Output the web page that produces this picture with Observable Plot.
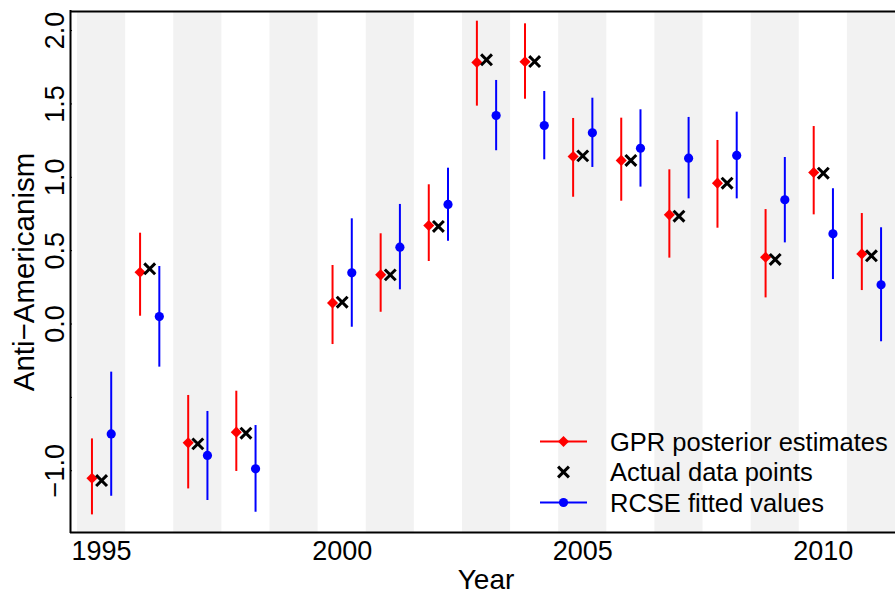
<!DOCTYPE html>
<html>
<head>
<meta charset="utf-8">
<script src="https://cdn.jsdelivr.net/npm/d3@7"></script>
<script src="https://cdn.jsdelivr.net/npm/@observablehq/plot@0.6"></script>
<style>
  body { margin: 0; background: #fff; }
  #wrap { position: relative; width: 895px; height: 595px; font-family: "Liberation Sans", Arial, sans-serif; }
  #legend { position: absolute; left: 0; top: 0; pointer-events: none; }
</style>
</head>
<body>
<div id="wrap"></div>
<script>
// ---- data ----
const years    = [1995, 1996, 1997, 1998, 2000, 2001, 2002, 2003, 2004, 2005, 2006, 2007, 2008, 2009, 2010, 2011];
const gprMean  = [-1.051, 0.353, -0.810, -0.737, 0.144, 0.335, 0.671, 1.783, 1.787, 1.142, 1.115, 0.744, 0.960, 0.455, 1.033, 0.478];
const gprLow   = [-1.301, 0.053, -1.124, -1.005, -0.140, 0.080, 0.426, 1.485, 1.532, 0.864, 0.837, 0.449, 0.653, 0.178, 0.744, 0.228];
const gprHigh  = [-0.783, 0.619, -0.487, -0.458, 0.399, 0.615, 0.949, 2.064, 2.046, 1.401, 1.403, 1.051, 1.251, 0.780, 1.346, 0.753];
const actual   = [-1.067, 0.376, -0.817, -0.744, 0.149, 0.335, 0.665, 1.801, 1.789, 1.146, 1.115, 0.735, 0.960, 0.440, 1.028, 0.465];
const rcseMean = [-0.749, 0.051, -0.896, -0.987, 0.349, 0.524, 0.815, 1.421, 1.353, 1.303, 1.198, 1.130, 1.149, 0.847, 0.615, 0.267];
const rcseLow  = [-1.174, -0.294, -1.203, -1.283, -0.022, 0.233, 0.564, 1.181, 1.119, 1.067, 0.933, 0.853, 0.853, 0.553, 0.303, -0.121];
const rcseHigh = [-0.328, 0.392, -0.596, -0.692, 0.717, 0.815, 1.062, 1.660, 1.585, 1.539, 1.460, 1.408, 1.444, 1.135, 0.922, 0.656];
const shadedYears = [1995, 1997, 1999, 2001, 2003, 2005, 2007, 2009, 2011];
const xTicks = [1995, 2000, 2005, 2010];
const yTicks = [-1, -0.5, 0, 0.5, 1, 1.5, 2];
const legendLabels = ["GPR posterior estimates", "Actual data points", "RCSE fitted values"];

// ---- table for Plot ----
const rows = years.map((year, i) => ({
  year, gm: gprMean[i], gl: gprLow[i], gh: gprHigh[i], a: actual[i],
  rm: rcseMean[i], rl: rcseLow[i], rh: rcseHigh[i]
}));

const xDomain = [1994.354, 2011.5];
const yDomain = [-1.421, 2.130];
const off = 0.2;
const RED = "#ff0000", BLUE = "#0000ff";
const fmtY = d => d === -0.5 ? "" : d.toFixed(1).replace("-", "\u2212");

const chart = Plot.plot({
  width: 895,
  height: 595,
  marginLeft: 70,
  marginRight: 0,
  marginTop: 11,
  marginBottom: 63,
  style: { fontFamily: "'Liberation Sans', Arial, sans-serif", fontSize: "27px", background: "white", color: "black" },
  x: { domain: xDomain },
  y: { domain: yDomain },
  marks: [
    Plot.rect(shadedYears, { x1: d => d - 0.5, x2: d => d + 0.5, fill: "#f2f2f2" }),
    // GPR
    Plot.ruleX(rows, { x: d => d.year - off, y1: "gl", y2: "gh", stroke: RED, strokeWidth: 2 }),
    Plot.dot(rows, { x: d => d.year - off, y: "gm", symbol: "diamond2", r: 5, fill: RED, stroke: null }),
    // actual
    Plot.dot(rows, { x: "year", y: "a", symbol: "times", r: 5, stroke: "black", strokeWidth: 3 }),
    // RCSE
    Plot.ruleX(rows, { x: d => d.year + off, y1: "rl", y2: "rh", stroke: BLUE, strokeWidth: 2 }),
    Plot.dot(rows, { x: d => d.year + off, y: "rm", r: 4.6, fill: BLUE, stroke: null }),
    // frame lines
    Plot.ruleY(yDomain, { stroke: "black", strokeWidth: 2 }),
    Plot.ruleX([xDomain[0]], { stroke: "black", strokeWidth: 2, strokeLinecap: "square" }),
    // axes
    Plot.axisX({ ticks: xTicks, tickSize: 0, tickPadding: 8, tickFormat: d => String(d), label: null, fontSize: 27 }),
    Plot.axisY({ ticks: yTicks, tickSize: -2, tickPadding: 9, tickRotate: -90, tickFormat: fmtY, label: null, fontSize: 27 }),
    // axis titles
    Plot.text(["Year"], { frameAnchor: "bottom", textAnchor: "middle", lineAnchor: "bottom", dy: 56, dx: 3, fontSize: 28, fill: "black" }),
    Plot.text(["Anti\u2212Americanism"], { frameAnchor: "left", textAnchor: "middle", rotate: -90, lineAnchor: "bottom", dx: -37, fontSize: 29.5, fill: "black" })
  ]
});

const wrap = document.getElementById("wrap");
wrap.appendChild(chart);

// ---- legend overlay ----
const leg = d3.select(wrap).append("svg")
  .attr("id", "legend").attr("width", 895).attr("height", 595);
const rowY = [441.5, 472, 502.5];
const g = leg.selectAll("g").data(legendLabels).join("g")
  .attr("transform", (d, i) => `translate(0,${rowY[i]})`);
g.filter((d, i) => i !== 1).append("line")
  .attr("x1", 540).attr("x2", 587).attr("y1", 0).attr("y2", 0)
  .attr("stroke", (d, i) => i === 0 ? RED : BLUE).attr("stroke-width", 2);
g.filter((d, i) => i === 0).append("path")
  .attr("transform", "translate(563.5,0)")
  .attr("d", d3.symbol(d3.symbolDiamond2, Math.PI * 25)()).attr("fill", RED);
g.filter((d, i) => i === 1).append("path")
  .attr("transform", "translate(563.5,0)")
  .attr("d", d3.symbol(d3.symbolTimes, Math.PI * 25)()).attr("fill", "none")
  .attr("stroke", "black").attr("stroke-width", 3);
g.filter((d, i) => i === 2).append("circle")
  .attr("cx", 563.5).attr("cy", 0).attr("r", 4.6).attr("fill", BLUE);
g.append("text").attr("x", 610).attr("y", 9.2)
  .attr("font-family", "'Liberation Sans', Arial, sans-serif")
  .attr("font-size", 25.5).attr("fill", "black").text(d => d);
</script>
</body>
</html>
